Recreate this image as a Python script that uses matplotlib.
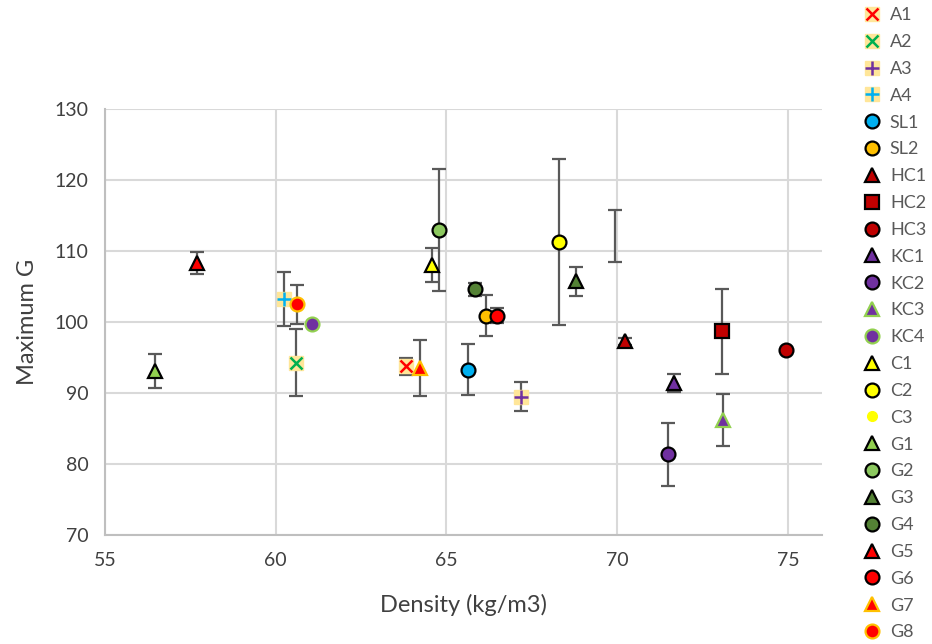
import matplotlib
matplotlib.use("Agg")
import matplotlib.pyplot as plt
from matplotlib.lines import Line2D
from matplotlib.legend_handler import HandlerTuple

labels = ['A1', 'A2', 'A3', 'A4', 'SL1', 'SL2', 'HC1', 'HC2', 'HC3', 'KC1', 'KC2', 'KC3', 'KC4',
          'C1', 'C2', 'C3', 'G1', 'G2', 'G3', 'G4', 'G5', 'G6', 'G7', 'G8']
density = [63.82, 60.59, 67.18, 60.24, 65.64, 66.16, 70.22, 73.08, 74.94, 71.65, 71.48, 73.09, 61.06,
           64.59, 68.30, 69.94, 56.47, 64.78, 68.79, 65.85, 57.70, 66.48, 64.23, 60.62]
max_g = [93.8, 94.3, 89.5, 103.2, 93.3, 100.9, 97.3, 98.7, 96.0, 91.4, 81.4, 86.2, 99.7,
         108.0, 111.3, 112.1, 93.1, 113.0, 105.7, 104.6, 108.3, 100.9, 93.5, 102.5]
err = [1.2, 4.7, 2.05, 3.8, 3.6, 2.85, 0.5, 6.0, 0.0, 1.3, 4.45, 3.7, 0.0,
       2.4, 11.7, 3.6, 2.45, 8.6, 2.05, 0.9, 1.5, 1.05, 3.95, 2.75]

# styles: (marker, face, edge, size)
BG = '#FFE699'
styles = {
    'A1': ('x', '#FF0000', '#FF0000', 9), 'A2': ('x', '#00B050', '#00B050', 9),
    'A3': ('+', '#7030A0', '#7030A0', 10), 'A4': ('+', '#00B0F0', '#00B0F0', 10),
    'SL1': ('o', '#00B0F0', 'black', 10), 'SL2': ('o', '#FFC000', 'black', 10),
    'HC1': ('^', '#C00000', 'black', 10), 'HC2': ('s', '#C00000', 'black', 9.5),
    'HC3': ('o', '#C00000', 'black', 10),
    'KC1': ('^', '#7030A0', 'black', 10), 'KC2': ('o', '#7030A0', 'black', 10),
    'KC3': ('^', '#7030A0', '#92D050', 10), 'KC4': ('o', '#7030A0', '#92D050', 10),
    'C1': ('^', '#FFFF00', 'black', 10), 'C2': ('o', '#FFFF00', 'black', 10),
    'C3': ('o', '#FFFF00', '#FFFF00', 6),
    'G1': ('^', '#92D050', 'black', 10), 'G2': ('o', '#8CC85F', 'black', 10),
    'G3': ('^', '#548235', 'black', 10), 'G4': ('o', '#548235', 'black', 10),
    'G5': ('^', '#FF0000', 'black', 10), 'G6': ('o', '#FF0000', 'black', 10),
    'G7': ('^', '#FF0000', '#FFC000', 10), 'G8': ('o', '#FF0000', '#FFC000', 10),
}

plt.rcParams['font.family'] = ['Lato', 'DejaVu Sans']
fig = plt.figure(figsize=(9.32, 6.44), dpi=100)
ax = fig.add_axes([0.1127, 0.169, 0.882 - 0.1127, 0.831 - 0.169])

handles = []
for lab, xv, yv, ev in zip(labels, density, max_g, err):
    m, fc, ec, ms = styles[lab]
    if ev > 0:
        ax.errorbar([xv], [yv], yerr=[ev], fmt='none', ecolor='#595959', elinewidth=1.6,
                    capsize=5, capthick=1.6, zorder=3)
    if lab.startswith('A'):
        ax.plot([xv], [yv], 's', ms=10, mfc=BG, mec=BG, zorder=4)
        ax.plot([xv], [yv], m, ms=ms, color=fc, mew=1.8, zorder=5)
        h = (Line2D([], [], marker='s', ls='none', ms=10, mfc=BG, mec=BG),
             Line2D([], [], marker=m, ls='none', ms=ms, color=fc, mew=1.8))
    elif lab == 'C3':
        h = Line2D([], [], marker='o', ls='none', ms=7, mfc=fc, mec=fc)
    else:
        ax.plot([xv], [yv], m, ms=ms, mfc=fc, mec=ec, mew=1.6, zorder=5)
        h = Line2D([], [], marker=m, ls='none', ms=ms, mfc=fc, mec=ec, mew=1.6)
    handles.append(h)

ax.set_xlim(55, 76)
ax.set_ylim(70, 130)
ax.set_xticks([55, 60, 65, 70, 75])
ax.set_yticks(range(70, 131, 10))
ax.grid(True, color='#D9D9D9', linewidth=1.5)
ax.set_axisbelow(True)
for s in ['top', 'right']:
    ax.spines[s].set_visible(False)
for s in ['left', 'bottom']:
    ax.spines[s].set_color('#BFBFBF')
    ax.spines[s].set_linewidth(1.5)
ax.tick_params(length=0, labelsize=14, labelcolor='#404040', pad=12)
ax.set_xlabel('Density (kg/m3)', fontsize=17, color='#404040', labelpad=18)
ax.set_ylabel('Maximum G', fontsize=17, color='#404040', labelpad=12)

leg = fig.legend(handles, labels, loc='upper left', bbox_to_anchor=(0.918, 1.0),
                 frameon=False, fontsize=13, labelspacing=0.6, handlelength=1.0,
                 handletextpad=0.5, borderpad=0.2, borderaxespad=0.2,
                 handler_map={tuple: HandlerTuple(ndivide=1)})
for t in leg.get_texts():
    t.set_color('#595959')

fig.savefig('out.png', dpi=100)
